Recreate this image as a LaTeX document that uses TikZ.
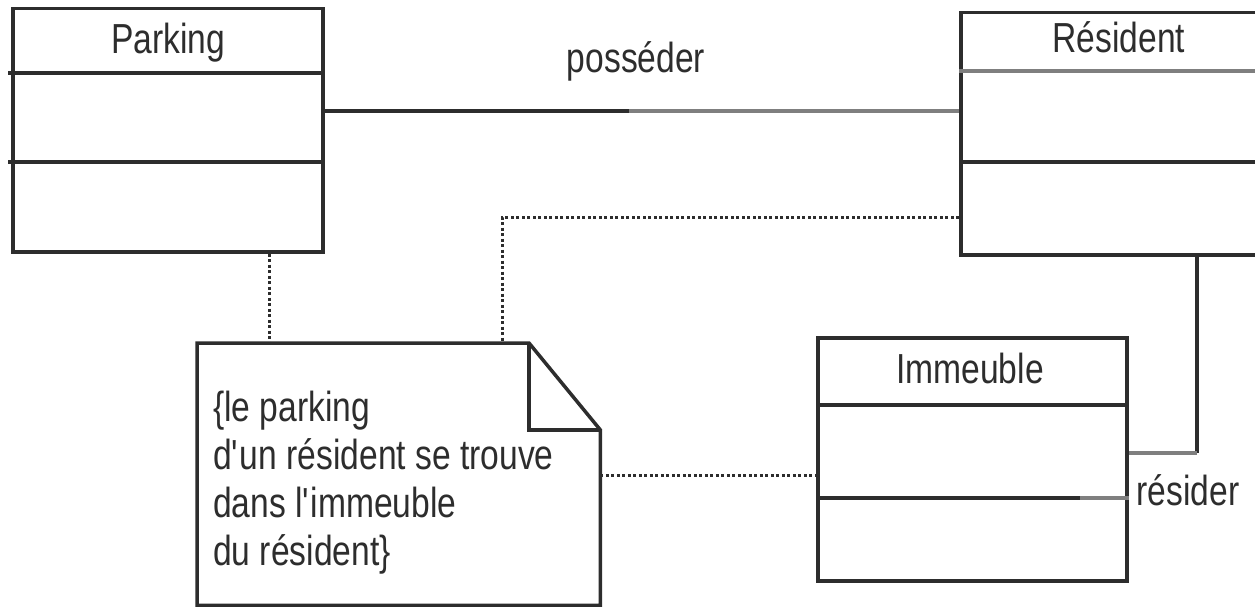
\documentclass[tikz,border=0pt]{standalone}
\usepackage{fontspec}
\setmainfont{Liberation Sans}[FakeStretch=0.8]
\definecolor{linec}{HTML}{2D2D2D}
\definecolor{grayline}{HTML}{7F7F7F}
\tikzset{
  classbox/.style={draw=linec, line width=3.5pt, rectangle, inner sep=0pt, anchor=north west},
  lbl/.style={inner sep=0pt, anchor=base, text=linec},
  conn/.style={draw=linec, line width=3.5pt},
  grayconn/.style={draw=grayline, line width=3.5pt},
  dotline/.style={draw=linec, line width=3pt, dash pattern=on 3pt off 2.5pt},
}
\begin{document}
\begin{tikzpicture}[x=1pt, y=-1pt, font=\fontsize{42}{48}\selectfont]
\useasboundingbox (0,0) rectangle (1255,607);
\clip (0,0) rectangle (1255,607);
% Parking
\node[classbox, minimum width=310pt, minimum height=243pt] (parking) at (11,7) {};
\draw[conn] (8,73) -- (parking.east |- 0,73);
\draw[conn] (8,162) -- (parking.east |- 0,162);
\node[lbl] (parkingname) at (168,54) {Parking};
% Resident
\node[classbox, minimum width=320pt, minimum height=242pt] (resident) at (959,11) {};
\draw[grayconn] (resident.west |- 0,71) -- (1280,71);
\draw[conn] (resident.west |- 0,162) -- (1280,162);
\node[lbl] (residentname) at (1119,53) {Résident};
% Immeuble
\node[classbox, minimum width=309pt, minimum height=243pt] (immeuble) at (816,336) {};
\draw[conn] (immeuble.west |- 0,405) -- (immeuble.east |- 0,405);
\draw[conn] (immeuble.west |- 0,498) -- (1080,498);
\draw[grayconn] (1080,498) -- (immeuble.east |- 0,498);
\node[lbl] (immeublename) at (970,383) {Immeuble};
% Note
\node[inner sep=0pt, minimum width=403pt, minimum height=262pt, anchor=north west] (note) at (197,343) {};
\draw[draw=linec, line width=3.5pt, line join=miter]
  (note.north west) -- (529,343) -- (note.east |- 0,430) -- (note.south east) -- (note.south west) -- cycle;
\draw[draw=linec, line width=3.5pt] (529,343) -- (529,430) -- (note.east |- 0,430);
\node[inner sep=0pt, anchor=north west, align=left, text=linec] (notetext) at (213,391)
  {\{le parking\\d\textquotesingle un résident se trouve\\dans l\textquotesingle immeuble\\du résident\}};
% posseder
\coordinate (pline) at (0,111);
\draw[conn] (parking.east |- pline) -- (629,111);
\draw[grayconn] (629,111) -- (resident.west |- pline);
\node[lbl] (posslbl) at (636,73) {posséder};
% resider
\coordinate (rcorner) at (1197,453);
\draw[conn] (resident.south -| rcorner) -- (rcorner);
\draw[grayconn] (rcorner) -- (immeuble.east |- rcorner);
\node[lbl] (reslbl) at (1188,505) {résider};
% dotted
\draw[dotline] (parking.south -| 269,0) -- (note.north -| 269,0);
\coordinate (dcorner) at (502,217);
\draw[dotline] (resident.west |- dcorner) -- (dcorner) -- (note.north -| dcorner);
\draw[dotline] (note.east |- 0,475) -- (immeuble.west |- 0,475);
\end{tikzpicture}
\end{document}
